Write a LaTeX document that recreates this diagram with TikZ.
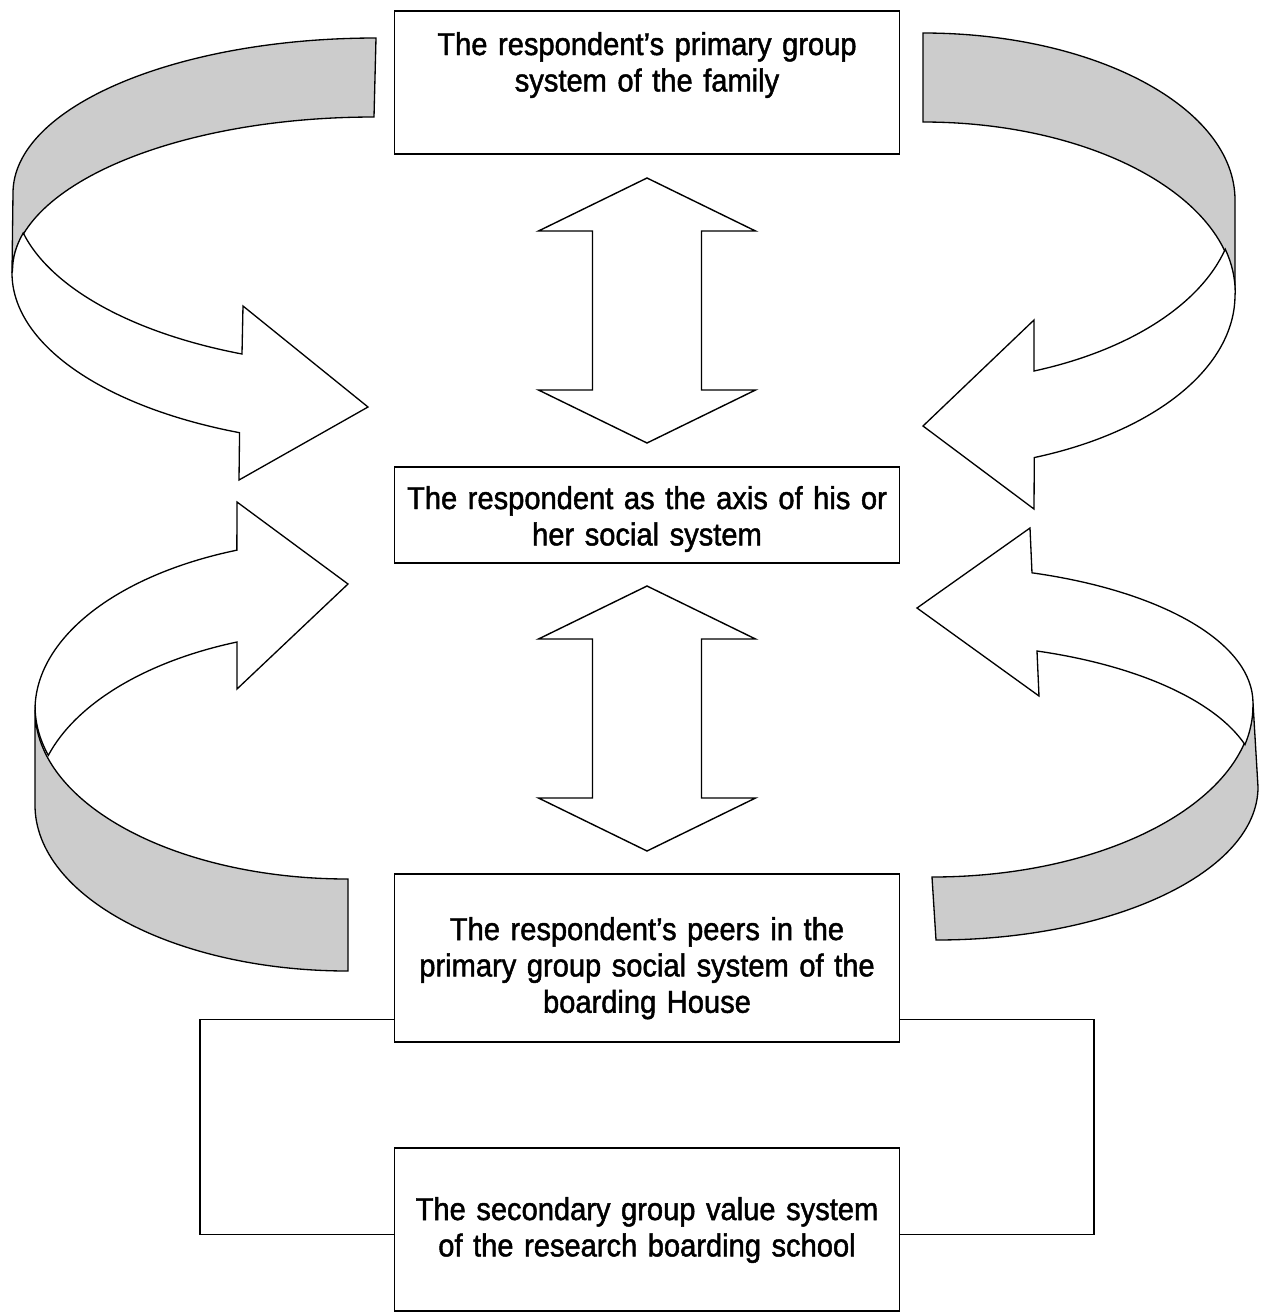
\documentclass[tikz,border=0pt]{standalone}
\usepackage{fontspec}
\setmainfont{Liberation Sans}[FakeStretch=0.92,FakeBold=1.5]
\usetikzlibrary{calc}
\tikzset{
  sysbox/.style={rectangle,draw,line width=0.8pt,text width=10.1cm,inner sep=0pt,
    align=center,anchor=base,font=\fontsize{18}{20.7}\selectfont},
  band/.style={draw,line width=0.75pt,fill=black!20},
  face/.style={draw,line width=0.75pt,fill=white},
  blockarr/.style={draw,line width=0.8pt,fill=white},
  link/.style={draw,line width=0.8pt}
}

\begin{document}
\begin{tikzpicture}[x=0.02cm,y=-0.02cm]
  \useasboundingbox (0,0) rectangle (1269,1313);

  % Systems
  \node[sysbox,text height=0.88cm,text depth=1.98cm] (family) at (647,55)
    {The respondent’s primary group\\system of the family};
  \node[sysbox,text height=0.84cm,text depth=1.08cm] (axis) at (647,509)
    {The respondent as the axis of his or\\her social system};
  \node[sysbox,text height=1.32cm,text depth=2.04cm] (peers) at (647,940)
    {The respondent’s peers in the\\primary group social system of the\\boarding House};
  \node[sysbox,text height=1.44cm,text depth=1.82cm] (school) at (647,1220)
    {The secondary group value system\\of the research boarding school};

  % Two-way arrows
  \foreach \a/\b in {family/axis,axis/peers}
    \draw[blockarr] ($(\a.south)!0.5!(\b.north)$) ++(0,-132.5) -- ++(108.5,53) -- ++(-54,0)
      -- ++(0,159) -- ++(54,0) -- ++(-108.5,53) -- ++(-108.5,-53) -- ++(54,0)
      -- ++(0,-159) -- ++(-54,0) -- cycle;

  % Curved arrow, top left
  \draw[band] (376,38) arc[start angle=-90,end angle=-180,x radius=363,y radius=155]
    -- (12,273) arc[start angle=180,end angle=270,x radius=362,y radius=156] -- cycle;
  \draw[face] (12,273) arc[start angle=180,end angle=111.8,x radius=362,y radius=172]
    -- (239,480) -- (368,407) -- (243,306) -- (242,354)
    arc[start angle=111.7,end angle=166.5,x radius=363,y radius=174]
    arc[start angle=194,end angle=180,x radius=362,y radius=156] -- cycle;

  % Curved arrow, top right
  \draw[band] (923,33) arc[start angle=-90,end angle=0,x radius=312,y radius=167]
    -- (1235,295) arc[start angle=0,end angle=-90,x radius=312,y radius=173] -- cycle;
  \draw[face] (1235,295) arc[start angle=0,end angle=69.1,x radius=312,y radius=174]
    -- (1034,509) -- (923,426) -- (1034,320) -- (1034,371)
    arc[start angle=69.2,end angle=14.5,x radius=312,y radius=178]
    arc[start angle=-14.5,end angle=0,x radius=312,y radius=173] -- cycle;

  % Curved arrow, bottom left
  \draw[band] (348,971) arc[start angle=90,end angle=180,x radius=313,y radius=166]
    -- (35,710) arc[start angle=180,end angle=90,x radius=313,y radius=169] -- cycle;
  \draw[face] (35,710) arc[start angle=180,end angle=249.2,x radius=313,y radius=171]
    -- (237,502) -- (348,584) -- (237,689) -- (237,642)
    arc[start angle=249.2,end angle=196.7,x radius=313,y radius=175]
    arc[start angle=163.3,end angle=180,x radius=313,y radius=169] -- cycle;

  % Curved arrow, bottom right
  \draw[band] (936,940) arc[start angle=90,end angle=0,x radius=322,y radius=153]
    -- (1253,703) arc[start angle=0,end angle=90,x radius=321,y radius=174] -- cycle;
  \draw[face] (1253,703) arc[start angle=0,end angle=-71.85,x radius=321,y radius=137]
    -- (1030,528) -- (917,608) -- (1039,696) -- (1037,651)
    arc[start angle=-71.7,end angle=-16.3,x radius=322,y radius=140]
    arc[start angle=12.8,end angle=0,x radius=321,y radius=174] -- cycle;

  % House to school
  \draw[link] ([yshift=0.46cm]peers.south west) -- ++(-194,0) |- ([yshift=-1.74cm]school.north west);
  \draw[link] ([yshift=0.46cm]peers.south east) -- ++(194,0) |- ([yshift=-1.74cm]school.north east);
\end{tikzpicture}
\end{document}
